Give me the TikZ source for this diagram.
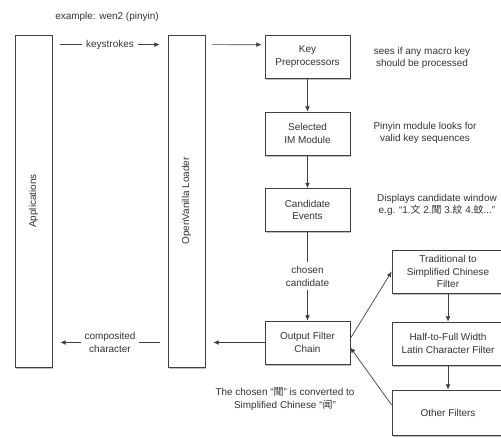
\documentclass[tikz,border=0pt]{standalone}
\usepackage{fontspec}
\setmainfont{Liberation Sans}
\newfontfamily\cjk{Noto Sans CJK TC}
\usetikzlibrary{arrows.meta,shadows}

\begin{document}
\begin{tikzpicture}[x=0.03cm,y=-0.03cm,
  font=\fontsize{8.5}{10.6}\selectfont,
  box/.style={draw=black!75,line width=0.6pt,fill=white,align=center,text=black!80,
    drop shadow={shadow xshift=0.6pt,shadow yshift=-1.5pt,opacity=0.5}},
  stage/.style={box,minimum width=2.55cm,minimum height=1.29cm},
  filt/.style={box,minimum width=3.36cm,minimum height=1.29cm},
  bar/.style={box,minimum width=1.11cm,minimum height=9.96cm},
  note/.style={align=center,text=black!80},
  link/.style={draw=black!75,line width=0.6pt,-{Latex[length=4.5pt,width=4pt]}}]
  \useasboundingbox (0,0) rectangle (501,437);

  % the two tall columns
  \node[bar] (apps)   at (33.5,201)  {};
  \node[note,rotate=90] (appslabel) at (apps) {Applications};
  \node[bar] (loader) at (186.5,201) {};
  \node[note,rotate=90] (loaderlabel) at (loader) {OpenVanilla Loader};

  % processing chain
  \node[stage] (keypre)   at (307.5,56.5)  {Key\\Preprocessors};
  \node[stage] (immod)    at (307.5,133.5) {Selected\\IM Module};
  \node[stage] (cand)     at (307.5,210)   {Candidate\\Events};
  \node[stage] (outchain) at (307.5,342.5) {Output Filter\\Chain};

  % filters
  \node[filt] (tradsimp) at (448,271.5) {Traditional to\\Simplified Chinese\\Filter};
  \node[filt] (halffull) at (448,343.5) {Half-to-Full Width\\Latin Character Filter};
  \node[filt,minimum height=1.35cm] (others) at (448,412.5) {Other Filters};

  % notes
  \node[note] (example)    at (107,17)  {example: wen2 (pinyin)};
  \node[note] (macronote)  at (422,58)  {sees if any macro key\\should be processed};
  \node[note] (pinyinnote) at (425,133) {Pinyin module looks for\\valid key sequences};
  \node[note] (candnote)   at (437,205) {Displays candidate window\\e.g. “1.{\cjk 文} 2.{\cjk 聞} 3.{\cjk 紋} 4.{\cjk 蚊}...”};
  \node[note] (convnote)   at (285,399) {The chosen “{\cjk 聞}” is converted to\\Simplified Chinese “{\cjk 闻}”};

  \coordinate (backin)   at (loader.east |- outchain.west);
  \coordinate (backout)  at (loader.west |- outchain.west);
  \coordinate (appsback) at (apps.east |- outchain.west);

  % connectors
  \draw[link] ([shift={(8,10)}]apps.north east) -- node[fill=white,note] {keystrokes} ([shift={(-8,10)}]loader.north west);
  \draw[link] ([shift={(7,10)}]loader.north east) -- ([shift={(-3,10)}]keypre.north west);
  \draw[link] (keypre) -- (immod);
  \draw[link] (immod) -- (cand);
  \draw[link] (cand) -- node[fill=white,note] {chosen\\candidate} (outchain);
  \draw[link] (outchain.west) -- ([xshift=0.24cm]backin);
  \draw[link] ([xshift=-0.24cm]backout) -- node[fill=white,note] {composited\\character} ([xshift=0.24cm]appsback);
  \draw[link] ([shift={(0,-4)}]outchain.east) -- (tradsimp.west);
  \draw[link] (tradsimp) -- (halffull);
  \draw[link] (halffull) -- (others);
  \draw[link] ([shift={(0,-7.5)}]others.west) -- ([shift={(0,5)}]outchain.east);
\end{tikzpicture}
\end{document}
